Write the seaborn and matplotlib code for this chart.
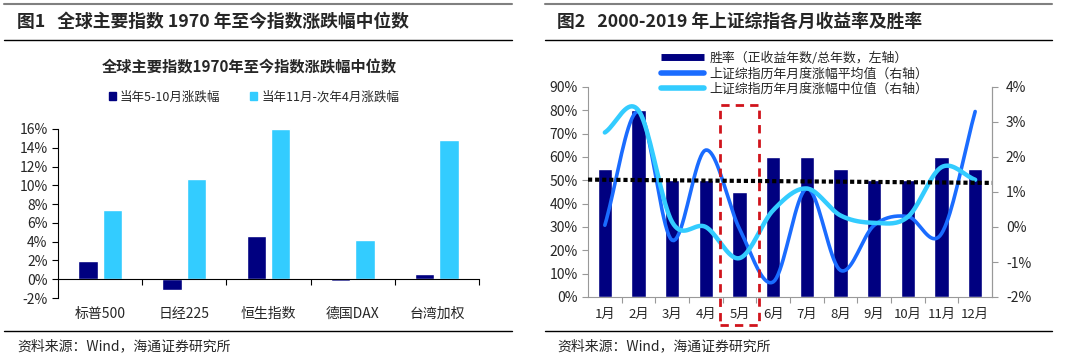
import numpy as np
import pandas as pd
import matplotlib
matplotlib.use('Agg')
import matplotlib.pyplot as plt
from matplotlib.lines import Line2D
from matplotlib.patches import Patch, Rectangle
from matplotlib.ticker import FuncFormatter, FixedLocator
import seaborn as sns

# ---------------------------------------------------------------
# Data

indices = ['标普500', '日经225', '恒生指数', '德国DAX', '台湾加权']
may_oct = [1.9, -1.1, 4.6, -0.2, 0.6]
nov_apr = [7.4, 10.7, 16.0, 4.2, 14.8]
series_names = ['当年5-10月涨跌幅', '当年11月-次年4月涨跌幅']

months = ['1月', '2月', '3月', '4月', '5月', '6月', '7月', '8月', '9月', '10月', '11月', '12月']
win_rate = [55, 80, 50, 50, 45, 60, 60, 55, 50, 50, 60, 55]
mean_ret = [0.05, 3.3, -0.38, 2.2, -0.05, -1.57, 1.1, -1.24, 0.05, 0.3, -0.19, 3.3]
median_ret = [2.7, 3.33, 0.14, 0.0, -0.89, 0.48, 1.1, 0.33, 0.12, 0.29, 1.71, 1.35]
avg_line = [50.3, 48.9]   # dotted reference line, left axis
legend2 = ['胜率（正收益年数/总年数，左轴）',
           '上证综指历年月度涨幅平均值（右轴）',
           '上证综指历年月度涨幅中位值（右轴）']

navy = '#000080'
light = '#33CCFF'
blue = '#1A6CFF'
red = '#D0141C'

sns.set_style('white')
plt.rcParams['font.family'] = ['Noto Sans CJK SC', 'DejaVu Sans']
plt.rcParams['axes.unicode_minus'] = False


def smooth(y, n=20):
    # catmull-rom, to mimic excel's smoothed line
    x = np.arange(len(y), dtype=float)
    y = np.asarray(y, dtype=float)
    px = np.concatenate([[2 * x[0] - x[1]], x, [2 * x[-1] - x[-2]]])
    py = np.concatenate([[2 * y[0] - y[1]], y, [2 * y[-1] - y[-2]]])
    xs, ys = [], []
    t = np.linspace(0, 1, n, endpoint=False)
    for i in range(1, len(px) - 2):
        for arr, out in ((px, xs), (py, ys)):
            p0, p1, p2, p3 = arr[i - 1], arr[i], arr[i + 1], arr[i + 2]
            out.extend(0.5 * (2 * p1 + (-p0 + p2) * t
                              + (2 * p0 - 5 * p1 + 4 * p2 - p3) * t ** 2
                              + (-p0 + 3 * p1 - 3 * p2 + p3) * t ** 3))
    xs.append(x[-1])
    ys.append(y[-1])
    return np.array(xs), np.array(ys)


fig = plt.figure(figsize=(10.8, 3.6), dpi=100)

# ---------------------------------------------------------------
# Frame: rules, titles, sources

def hline(x0, x1, y, color, lw):
    fig.add_artist(Line2D([x0 / 1080, x1 / 1080], [1 - y / 360, 1 - y / 360],
                          color=color, lw=lw, transform=fig.transFigure))

for x0, x1 in ((4, 512), (545, 1052)):
    hline(x0, x1, 4, '#808080', 1.5)
    hline(x0, x1, 40, 'black', 1.0)
    hline(x0, x1, 331, 'black', 1.0)

fig.text(17 / 1080, 1 - 22 / 360, '图1   全球主要指数 1970 年至今指数涨跌幅中位数',
         fontsize=12.8, fontweight='bold', va='center')
fig.text(557 / 1080, 1 - 22 / 360, '图2   2000-2019 年上证综指各月收益率及胜率',
         fontsize=12.8, fontweight='bold', va='center')
fig.text(17 / 1080, 1 - 346 / 360, '资料来源：Wind，海通证券研究所', fontsize=10, va='center')
fig.text(557 / 1080, 1 - 346 / 360, '资料来源：Wind，海通证券研究所', fontsize=10, va='center')

# ---------------------------------------------------------------
# Chart 1

df1 = pd.DataFrame({
    'index': indices * 2,
    'value': may_oct + nov_apr,
    'series': [series_names[0]] * len(indices) + [series_names[1]] * len(indices),
})

ax1 = fig.add_axes([58 / 1080, 1 - 298 / 360, (479 - 58) / 1080, (298 - 129) / 360])
sns.barplot(data=df1, x='index', y='value', hue='series', palette=[navy, light],
            width=0.58, gap=0.2, saturation=1, legend=False, ax=ax1)
ax1.set_ylim(-2, 16)
ax1.set_xlim(-0.5, len(indices) - 0.5)
ax1.set_yticks(np.arange(-2, 17, 2))
ax1.yaxis.set_major_formatter(FuncFormatter(lambda v, p: f'{v:.0f}%'))
ax1.set_xlabel('')
ax1.set_ylabel('')
for s in ('top', 'right'):
    ax1.spines[s].set_visible(False)
ax1.spines['bottom'].set_position(('data', 0))
ax1.spines['left'].set_color('black')
ax1.spines['bottom'].set_color('black')
ax1.spines['left'].set_linewidth(0.8)
ax1.spines['bottom'].set_linewidth(0.8)
ax1.tick_params(axis='y', which='major', direction='out', length=4, width=0.8,
                labelsize=10, left=True, color='black')
ax1.tick_params(axis='x', which='major', length=0, pad=20, labelsize=10)
ax1.xaxis.set_minor_locator(FixedLocator(np.arange(0.5, len(indices), 1)))
ax1.tick_params(axis='x', which='minor', direction='out', length=4, width=0.8,
                bottom=True, color='black')

fig.text(249 / 1080, 1 - 67 / 360, '全球主要指数1970年至今指数涨跌幅中位数',
         fontsize=11, fontweight='bold', ha='center', va='center')
fig.legend(handles=[Patch(color=navy), Patch(color=light)], labels=series_names,
           loc='center', bbox_to_anchor=(254 / 1080, 1 - 97 / 360), ncol=2,
           frameon=False, fontsize=9, handlelength=0.55, handleheight=0.55,
           handletextpad=0.35, columnspacing=2.4)

# ---------------------------------------------------------------
# Chart 2

ax2 = fig.add_axes([588 / 1080, 1 - 297 / 360, (992 - 588) / 1080, (297 - 87) / 360])
sns.barplot(x=months, y=win_rate, color=navy, width=0.42, saturation=1, ax=ax2)
ax2.set_ylim(0, 90)
ax2.set_xlim(-0.5, len(months) - 0.5)
ax2.set_yticks(np.arange(0, 91, 10))
ax2.yaxis.set_major_formatter(FuncFormatter(lambda v, p: f'{v:.0f}%'))
ax2.spines['top'].set_visible(False)
for s in ('left', 'right', 'bottom'):
    ax2.spines[s].set_color('#999999')
    ax2.spines[s].set_linewidth(0.8)
ax2.tick_params(axis='y', direction='out', length=4, width=0.8, color='#999999',
                left=True, labelsize=10)
ax2.tick_params(axis='x', which='major', length=0, pad=8, labelsize=9.5)
ax2.xaxis.set_minor_locator(FixedLocator(np.arange(0.5, len(months) - 1, 1)))
ax2.tick_params(axis='x', which='minor', direction='out', length=4, width=0.8,
                bottom=True, color='#999999')

ax3 = ax2.twinx()
ax3.set_ylim(-2, 4)
ax3.set_yticks(np.arange(-2, 5, 1))
ax3.yaxis.set_major_formatter(FuncFormatter(lambda v, p: f'{v:.0f}%'))
for s in ('top', 'left', 'bottom'):
    ax3.spines[s].set_visible(False)
ax3.spines['right'].set_color('#999999')
ax3.spines['right'].set_linewidth(0.8)
ax3.tick_params(axis='y', direction='out', length=4, width=0.8, color='#999999',
                right=True, labelsize=10, pad=6)

mx, my = smooth(mean_ret)
ax3.plot(mx, my, color=blue, lw=2.6, solid_capstyle='round')
dx, dy = smooth(median_ret)
ax3.plot(dx, dy, color=light, lw=3.2, solid_capstyle='round')
ax3.plot([-0.5, len(months) - 0.5], avg_line, color='black', lw=3,
         linestyle=(0, (1, 0.7)), transform=ax2.transData)

# box around May
may = months.index('5月')
rect = Rectangle((may - 0.58, -0.133), 1.16, 1.047,
                 transform=matplotlib.transforms.blended_transform_factory(ax2.transData, ax2.transAxes),
                 fill=False, edgecolor=red, lw=2, linestyle=(0, (3, 2.2)), clip_on=False, zorder=10)
ax3.add_patch(rect)

handles = [Line2D([], [], color=navy, lw=5, solid_capstyle='butt'),
           Line2D([], [], color=blue, lw=4, solid_capstyle='round'),
           Line2D([], [], color=light, lw=4, solid_capstyle='round')]
fig.legend(handles=handles, labels=legend2, loc='upper left',
           bbox_to_anchor=(655 / 1080, 1 - 45 / 360), frameon=False, fontsize=9.3,
           handlelength=3.3, handletextpad=0.4, labelspacing=0.2, borderpad=0)

fig.savefig('out.png', dpi=100)
